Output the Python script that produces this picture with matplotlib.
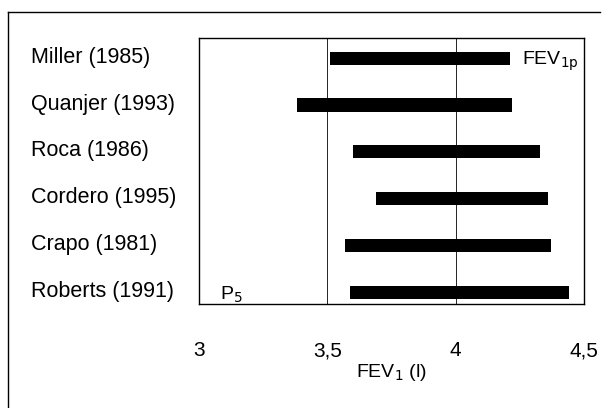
import matplotlib.pyplot as plt
from matplotlib.lines import Line2D

plt.rcParams['font.family'] = ['Liberation Sans', 'DejaVu Sans']

estudios = ["Miller (1985)", "Quanjer (1993)", "Roca (1986)",
            "Cordero (1995)", "Crapo (1981)", "Roberts (1991)"]
p5 = [3.51, 3.38, 3.60, 3.69, 3.57, 3.59]
fev1p = [4.21, 4.22, 4.33, 4.36, 4.37, 4.44]
xticks = [3, 3.5, 4, 4.5]
xticklabels = ["3", "3,5", "4", "4,5"]

fig = plt.figure(figsize=(6.08, 4.08), dpi=100)
ax = fig.add_axes([199/608, 1-304/408, 385/608, 266/408])

# marco exterior (solo arriba e izquierda visibles)
fig.add_artist(Line2D([8/608, 600/608], [1-12/408, 1-12/408], color="black", lw=1))
fig.add_artist(Line2D([8/608, 8/608], [0, 1-12/408], color="black", lw=1))

n = len(estudios)
ypos = list(range(n))[::-1]
for x in [3.5, 4]:
    ax.axvline(x, color="black", lw=0.6, zorder=1)
ax.barh(ypos, [b - a for a, b in zip(p5, fev1p)], left=p5, height=0.28,
        color="black", zorder=2)

ax.set_xlim(3, 4.5)
ax.set_ylim(-0.25, n - 0.57)
ax.set_xticks(xticks)
ax.set_xticklabels(xticklabels, fontsize=15)
ax.tick_params(axis="x", length=0, pad=27)
ax.set_yticks([])
for y, lab in zip(ypos, estudios):
    fig.text(31/608, ax.transData.transform((0, y))[1]/408 + 0.002, lab,
             fontsize=15.5, ha="left", va="center")
for s in ax.spines.values():
    s.set_linewidth(1)

ax.set_xlabel("FEV$_1$ (l)", fontsize=14, labelpad=1)
ax.text(4.26, 4.93, "FEV$_{1\\mathrm{p}}$", fontsize=14, va="center")
ax.text(3.08, -0.05, "P$_5$", fontsize=14, va="center")

fig.savefig("out.png", dpi=100)
